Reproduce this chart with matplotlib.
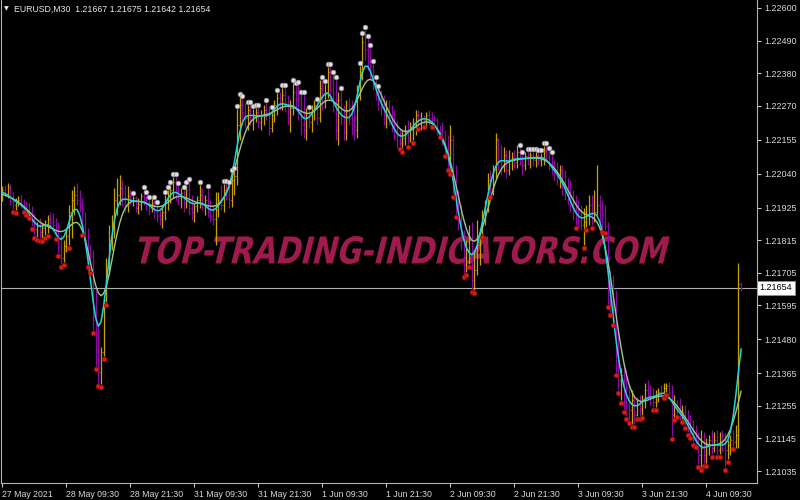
import numpy as np
import matplotlib
matplotlib.use("Agg")
import matplotlib.pyplot as plt
from matplotlib.textpath import TextPath
from matplotlib.font_manager import FontProperties
from matplotlib.path import Path
from matplotlib.patches import PathPatch

plt.rcParams['font.family'] = ['Liberation Sans', 'DejaVu Sans']

symbol = "EURUSD,M30"
POINT = 1e-5  # prices below are given in points (1e-5)

time_labels = ["27 May 2021", "28 May 09:30", "28 May 21:30", "31 May 09:30",
               "31 May 21:30", "1 Jun 09:30", "1 Jun 21:30", "2 Jun 09:30",
               "2 Jun 21:30", "3 Jun 09:30", "3 Jun 21:30", "4 Jun 09:30"]
price_ticks = [1.22600, 1.22490, 1.22380, 1.22270, 1.22155, 1.22040, 1.21925,
               1.21815, 1.21705, 1.21595, 1.21480, 1.21365, 1.21255, 1.21145,
               1.21035]

open_pts = [
121965,121985,121971,121995,121948,121934,121944,121951,121934,121927,
121921,121910,121877,121853,121863,121843,121856,121870,121887,121877,
121867,121846,121792,121755,121796,121829,121910,121951,121968,121951,
121931,121863,121816,121755,121741,121545,121437,121370,121437,121613,
121721,121816,121850,121951,121968,121992,121951,121931,121965,121951,
121958,121924,121938,121965,121958,121934,121924,121941,121910,121897,
121887,121910,121951,121968,121985,122012,121978,121958,121975,121941,
121985,121924,121910,121931,121951,121968,121934,121951,121910,121897,
121887,121917,121951,121934,121985,121968,121951,122019,122032,122205,
122272,122248,122228,122255,122221,122238,122248,122215,122238,122255,
122238,122194,122238,122272,122296,122276,122306,122272,122228,122262,
122316,122289,122248,122204,122188,122228,122215,122255,122272,122228,
122330,122289,122316,122384,122323,122272,122188,122289,122238,122181,
122255,122228,122205,122188,122306,122384,122485,122458,122417,122390,
122350,122306,122289,122262,122238,122262,122228,122205,122171,122154,
122144,122161,122181,122161,122188,122205,122238,122221,122228,122221,
122238,122228,122221,122205,122188,122181,122154,122127,122086,122154,
121992,121934,121883,121816,121748,121782,121816,121681,121714,121799,
121843,121890,121934,122019,121992,122052,122154,122086,122069,122103,
122052,122086,122093,122079,122113,122093,122069,122100,122093,122103,
122086,122100,122086,122093,122120,122093,122069,122052,122046,122025,
122052,122002,121985,121968,121934,121917,121890,121883,121867,121877,
121900,121934,121890,121910,121934,121900,121877,121863,121630,121613,
121579,121410,121343,121359,121292,121258,121241,121275,121224,121258,
121241,121275,121309,121292,121282,121268,121288,121302,121292,121316,
121322,121302,121224,121258,121241,121224,121234,121207,121180,121174,
121147,121140,121089,121113,121089,121123,121140,121113,121140,121106,
121133,121123,121106,121123,121140,121133,121157,121667]

high_pts = [
121998,122002,122008,122005,121978,121958,121965,121968,121954,121948,
121941,121931,121904,121877,121890,121873,121883,121900,121910,121907,
121890,121877,121833,121816,121856,121934,121985,121998,122008,121985,
121958,121910,121856,121799,121782,121647,121528,121454,121620,121755,
121867,121900,121992,122025,122036,122019,122002,121998,121985,121965,
121965,121958,121975,121985,121968,121951,121958,121951,121934,121924,
121934,121968,121985,122002,122029,122029,121998,121992,121985,122002,
122012,121968,121941,121965,122002,121992,121968,121988,121951,121934,
121978,121978,122002,122005,122005,122002,122042,122049,122259,122299,
122292,122279,122272,122272,122259,122262,122262,122255,122272,122279,
122269,122255,122289,122313,122316,122330,122330,122306,122289,122346,
122336,122340,122306,122306,122262,122255,122272,122289,122282,122357,
122357,122343,122400,122400,122373,122357,122316,122319,122272,122289,
122296,122289,122282,122340,122404,122505,122526,122495,122465,122411,
122357,122326,122323,122306,122289,122289,122272,122255,122221,122194,
122188,122205,122221,122215,122228,122255,122255,122248,122238,122248,
122255,122248,122238,122228,122205,122215,122188,122171,122205,122171,
122069,121985,121934,121850,121816,121867,121877,121782,121883,121856,
121917,121951,122042,122052,122069,122177,122161,122137,122130,122120,
122120,122113,122120,122137,122127,122103,122113,122113,122113,122113,
122113,122110,122110,122134,122134,122117,122103,122086,122079,122069,
122069,122052,122025,122019,121985,121968,121951,121934,121924,121934,
121968,121968,121985,122069,121968,121951,121934,121877,121714,121697,
121647,121512,121383,121393,121376,121326,121309,121292,121282,121292,
121292,121332,121343,121326,121316,121309,121316,121326,121332,121332,
121336,121326,121292,121275,121282,121258,121258,121241,121224,121207,
121190,121167,121174,121167,121147,121157,121174,121167,121174,121167,
121174,121163,121140,121157,121174,121190,121738,121675]

low_pts = [
121948,121961,121958,121934,121921,121917,121931,121924,121921,121910,
121900,121863,121833,121826,121823,121823,121833,121840,121856,121850,
121829,121772,121735,121741,121775,121799,121823,121900,121934,121910,
121843,121799,121735,121714,121512,121390,121332,121329,121424,121606,
121697,121782,121823,121900,121934,121931,121910,121910,121934,121931,
121910,121904,121917,121934,121917,121900,121910,121890,121877,121867,
121856,121883,121917,121941,121958,121951,121934,121924,121910,121924,
121900,121883,121877,121910,121924,121917,121900,121894,121877,121867,
121799,121894,121917,121910,121951,121924,121927,121968,122002,122154,
122205,122194,122188,122205,122188,122215,122194,122188,122204,122221,
122171,122181,122215,122238,122255,122255,122248,122205,122181,122238,
122255,122221,122171,122161,122154,122194,122181,122221,122205,122215,
122255,122262,122296,122289,122248,122154,122137,122205,122154,122154,
122205,122171,122154,122161,122289,122357,122424,122390,122357,122323,
122289,122255,122238,122205,122194,122205,122181,122154,122127,122134,
122123,122137,122140,122147,122154,122171,122201,122188,122208,122194,
122205,122208,122188,122171,122174,122137,122110,122063,122049,121971,
121904,121850,121782,121701,121708,121735,121650,121647,121697,121731,
121836,121867,121910,121971,121968,122025,122052,122036,122046,122025,
122036,122052,122059,122059,122069,122036,122052,122069,122059,122066,
122063,122069,122066,122069,122079,122052,122036,122019,122002,121992,
121968,121951,121934,121910,121883,121867,121856,121850,121799,121860,
121867,121867,121877,121900,121867,121853,121850,121600,121572,121539,
121370,121309,121275,121245,121221,121207,121194,121194,121221,121221,
121224,121248,121275,121258,121251,121251,121268,121282,121292,121302,
121292,121153,121218,121228,121207,121211,121190,121167,121157,121133,
121126,121059,121048,121062,121062,121089,121092,121099,121092,121092,
121099,121048,121076,121089,121120,121113,121113,121642]

close_pts = [
121985,121971,121995,121948,121934,121944,121951,121934,121927,121921,
121910,121877,121853,121863,121843,121856,121870,121887,121877,121867,
121846,121792,121755,121796,121829,121910,121951,121968,121951,121931,
121863,121816,121755,121741,121545,121437,121370,121437,121613,121721,
121816,121850,121951,121968,121992,121951,121931,121965,121951,121958,
121924,121938,121965,121958,121934,121924,121941,121910,121897,121887,
121910,121951,121968,121985,122012,121978,121958,121975,121941,121985,
121924,121910,121931,121951,121968,121934,121951,121910,121897,121887,
121917,121951,121934,121985,121968,121951,122019,122032,122205,122272,
122248,122228,122255,122221,122238,122248,122215,122238,122255,122238,
122194,122238,122272,122296,122276,122306,122272,122228,122262,122316,
122289,122248,122204,122188,122228,122215,122255,122272,122228,122330,
122289,122316,122384,122323,122272,122188,122289,122238,122181,122255,
122228,122205,122188,122306,122384,122485,122458,122417,122390,122350,
122306,122289,122262,122238,122262,122228,122205,122171,122154,122144,
122161,122181,122161,122188,122205,122238,122221,122228,122221,122238,
122228,122221,122205,122188,122181,122154,122127,122086,122154,121992,
121934,121883,121816,121748,121782,121816,121681,121714,121799,121843,
121890,121934,122019,121992,122052,122154,122086,122069,122103,122052,
122086,122093,122079,122113,122093,122069,122100,122093,122103,122086,
122100,122086,122093,122120,122093,122069,122052,122046,122025,122052,
122002,121985,121968,121934,121917,121890,121883,121867,121877,121900,
121934,121890,121910,121934,121900,121877,121863,121630,121613,121579,
121410,121343,121359,121292,121258,121241,121275,121224,121258,121241,
121275,121309,121292,121282,121268,121288,121302,121292,121316,121322,
121302,121224,121258,121241,121224,121234,121207,121180,121174,121147,
121140,121089,121113,121089,121123,121140,121113,121140,121106,121133,
121123,121106,121123,121140,121133,121157,121667,121654]

# bars flagged by the indicator
sell_marks = [4,5,8,9,10,11,12,13,14,15,16,17,20,21,22,23,25,30,32,33,34,35,36,37,38,39,
              149,150,152,154,156,158,161,164,166,167,168,169,170,173,174,175,176,177,180,183,
              215,218,219,221,225,226,227,228,229,230,231,232,233,234,235,236,237,238,239,240,
              244,245,248,249,251,252,253,255,256,257,258,259,260,261,262,263,264,266,268,269,
              271,272,274]
buy_marks = [49,53,54,55,57,58,61,62,63,64,65,66,68,69,70,74,77,83,84,85,86,87,88,89,90,
             92,93,94,95,96,99,101,103,105,106,109,110,111,112,113,115,118,120,121,122,123,
             124,125,127,134,135,136,137,138,139,140,141,
             194,195,197,198,199,200,201,202,203,204,205,206]
watermark = "TOP-TRADING-INDICATORS.COM"

o = np.array(open_pts) * POINT
h = np.array(high_pts) * POINT
l = np.array(low_pts) * POINT
c = np.array(close_pts) * POINT
n = len(c)
x = np.arange(n)


def smooth(v, sigma, lag):
    r = int(3.5 * sigma)
    out = np.empty(len(v))
    for i in range(len(v)):
        j = np.arange(max(-r, -i), min(r, len(v) - 1 - i) + 1)
        w = np.exp(-0.5 * ((j + lag) / sigma) ** 2)
        out[i] = np.sum(w * v[i + j]) / np.sum(w)
    return out


fast = smooth(c, 2.0, 0.3)
slow = smooth(c, 3.4, 1.3)

W, H = 800, 500
fig = plt.figure(figsize=(8, 5), dpi=100, facecolor='black')
ax_l, ax_r, ax_t, ax_b = 1, 757, 0, 483
ax = fig.add_axes([ax_l / W, (H - ax_b) / H, (ax_r - ax_l) / W, (ax_b - ax_t) / H])
ax.set_facecolor('black')
ax.set_xlim(-0.49, 282.97)
ax.set_ylim(1.209945, 1.22627)

for s in ['left', 'bottom', 'right']:
    ax.spines[s].set_color('#B4B4B4')
    ax.spines[s].set_linewidth(0.8)
ax.spines['top'].set_visible(False)

gold = '#C8A200'
purple = '#8A0CA0'
cols = np.where(c > o, gold, purple)
ax.vlines(x, l, h, colors=cols, lw=0.9, zorder=2)
ax.hlines(o, x - 0.4, x, colors=cols, lw=0.7, zorder=2)
ax.hlines(c, x, x + 0.4, colors=cols, lw=0.7, zorder=2)

ax.plot(x, slow, color='#9CC88E', lw=1.0, zorder=3)
ax.plot(x, fast, color='#1ED8D8', lw=1.1, zorder=4)

sm = np.array(sell_marks)
bm = np.array(buy_marks)
ax.plot(sm, l[sm] - 0.00009, 'o', ms=3.4, mfc='#E01818', mec='#8A0E0E', mew=0.5, zorder=5)
ax.plot(bm, h[bm] + 0.00009, 'o', ms=3.4, mfc='#E4DCE4', mec='#8C8C8C', mew=0.5, zorder=5)

# current price line and label
last = c[-1]
ax.axhline(last, color='#B0B0B0', lw=0.8, zorder=1)
ax.annotate(f"{last:.5f}", xy=(1, last), xycoords=('axes fraction', 'data'),
            xytext=(2.0, 0), textcoords='offset points', va='center', ha='left',
            fontsize=6.5, color='black', annotation_clip=False,
            bbox=dict(boxstyle='square,pad=0.3', fc='white', ec='#909090', lw=0.6))

# axes ticks
ax.yaxis.tick_right()
ax.set_yticks(price_ticks)
ax.set_yticklabels([f"{p:.5f}" for p in price_ticks])
ax.tick_params(axis='y', colors='#C8C8C8', labelcolor='#D8D8D8', labelsize=6.5,
               length=3, width=0.8, pad=2, direction='out')
tick_pos = np.arange(0, n, 24)[:len(time_labels)]
ax.set_xticks(tick_pos)
ax.set_xticklabels(time_labels)
ax.tick_params(axis='x', colors='#C8C8C8', labelcolor='#D8D8D8', labelsize=6.3,
               length=3, width=0.8, pad=2, direction='out')
for lab in ax.get_xticklabels():
    lab.set_horizontalalignment('left')

# header
fig.text(14 / W, 1 - 9 / H,
         f"{symbol}  {o[-1]:.5f} {h[-1]:.5f} {l[-1]:.5f} {c[-1]:.5f}",
         fontsize=6.3, color='#E8E8E8', va='center', ha='left')
fig.text(3.5 / W, 1 - 8.5 / H, '\u25BC', fontsize=4.5, color='#E8E8E8', va='center',
         ha='left', family=['DejaVu Sans'])

# watermark
tp = TextPath((0, 0), watermark, size=100,
              prop=FontProperties(family='DejaVu Sans', weight='bold'))
ext = tp.get_extents()
vx = (tp.vertices[:, 0] - ext.x0) / ext.width
vy = (tp.vertices[:, 1] - ext.y0) / ext.height
slant = 7
px = 133 + vx * (537 - slant) + vy * slant
py = 264 - vy * 28
ax_x = (px - ax_l) / (ax_r - ax_l)
ax_y = (ax_b - py) / (ax_b - ax_t)
wpath = Path(np.column_stack([ax_x, ax_y]), tp.codes)
ax.add_patch(PathPatch(wpath, transform=ax.transAxes, fc='#A01A4E', ec='none',
                       zorder=1.5, clip_on=False))

fig.savefig('out.png', dpi=100, facecolor='black')
